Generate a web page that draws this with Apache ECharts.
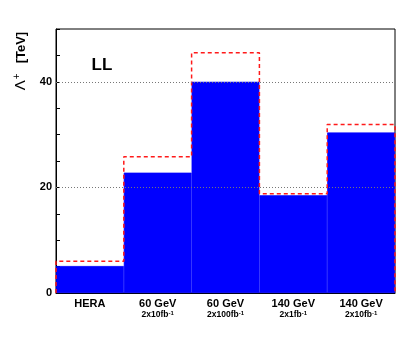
<!DOCTYPE html>
<html><head><meta charset="utf-8">
<script src="https://cdn.jsdelivr.net/npm/echarts@6/dist/echarts.min.js"></script>
<style>html,body{margin:0;padding:0;background:#fff}#c{width:407px;height:339px}</style>
</head><body><div id="c"></div>
<script>
const categories = ['HERA', '60 GeV', '60 GeV', '140 GeV', '140 GeV'];
const lumiLabels = ['', '2x10fb', '2x100fb', '2x1fb', '2x10fb'];
const blueValues = [5.1, 22.8, 40.0, 18.5, 30.4];
const redValues = [6.0, 25.8, 45.5, 18.8, 31.9];
const gridValues = [20, 40];
const yLabels = [0, 20, 40];

const redStep = [[0, 0]];
redValues.forEach((v, i) => { redStep.push([i, v]); redStep.push([i + 1, v]); });
redStep.push([redValues.length, 0]);

const FONT = 'Liberation Sans';
const chart = echarts.init(document.getElementById('c'), null, {renderer: 'canvas'});
chart.setOption({
  animation: false,
  backgroundColor: '#fff',
  grid: {left: 56, right: 12, top: 29, bottom: 46, show: true, borderColor: '#000', borderWidth: 1, backgroundColor: 'transparent'},
  xAxis: [{
    type: 'category', data: categories.map((c, i) => i), boundaryGap: true,
    axisLine: {lineStyle: {color: '#000', width: 1}},
    axisTick: {inside: true, length: 6, lineStyle: {color: '#000'}},
    axisLabel: {
      interval: 0, hideOverlap: false,
      margin: 5, color: '#000', fontFamily: FONT,
      formatter: function (v) {
        const i = +v;
        if (!lumiLabels[i]) return '{a|' + categories[i] + '}';
        return '{a|' + categories[i] + '}\n{b|' + lumiLabels[i] + '}{c|-1}';
      },
      rich: {
        a: {fontFamily: FONT, fontWeight: 'bold', fontSize: 11, color: '#000', lineHeight: 12},
        b: {fontFamily: FONT, fontWeight: 'bold', fontSize: 8.5, color: '#000', lineHeight: 9},
        c: {fontFamily: FONT, fontWeight: 'bold', fontSize: 6, color: '#000', verticalAlign: 'top', lineHeight: 9, padding: [0, 0, 4, 0]}
      }
    },
    splitLine: {show: false}
  }, {
    type: 'value', min: 0, max: categories.length, show: false
  }],
  yAxis: {
    type: 'value', min: 0, max: 50, interval: 5,
    axisLine: {show: true, lineStyle: {color: '#000', width: 1}},
    axisTick: {show: true, inside: true, length: 4, lineStyle: {color: '#000'}},
    axisLabel: {
      margin: 4, color: '#000', fontFamily: FONT, fontWeight: 'bold', fontSize: 11,
      formatter: v => (yLabels.indexOf(v) >= 0 ? String(v) : '')
    },
    splitLine: {show: false}
  },
  series: [{
    type: 'bar', xAxisIndex: 0, data: blueValues, barCategoryGap: '0%',
    itemStyle: {color: '#0000ff', borderColor: '#0000ff', borderWidth: 0.6},
    z: 2,
    markLine: {
      silent: true, symbol: 'none', label: {show: false},
      lineStyle: {color: '#777', type: [1, 2], width: 1},
      data: gridValues.map(v => ({yAxis: v}))
    }
  }, {
    type: 'line', xAxisIndex: 1, data: redStep, symbol: 'none', z: 3,
    lineStyle: {color: '#ff1a1a', width: 1.5, type: [4, 3]}
  }],
  graphic: [{
    type: 'text', x: 21, y: 61, rotation: Math.PI / 2,
    style: {
      text: '{l|Λ}{s|+}   {t|[TeV]}',
      align: 'center', verticalAlign: 'middle',
      rich: {
        l: {fontFamily: FONT, fontSize: 15, fill: '#000', color: '#000'},
        s: {fontFamily: FONT, fontSize: 10, fill: '#000', color: '#000', verticalAlign: 'top', padding: [0, 0, 8, 1]},
        t: {fontFamily: FONT, fontSize: 13, fontWeight: 'bold', fill: '#000', color: '#000'}
      }
    }
  }, {
    type: 'text', x: 102, y: 65,
    style: {text: 'LL', fontFamily: FONT, fontWeight: 'bold', fontSize: 17, fill: '#000', align: 'center', verticalAlign: 'middle'}
  }]
});
</script></body></html>
